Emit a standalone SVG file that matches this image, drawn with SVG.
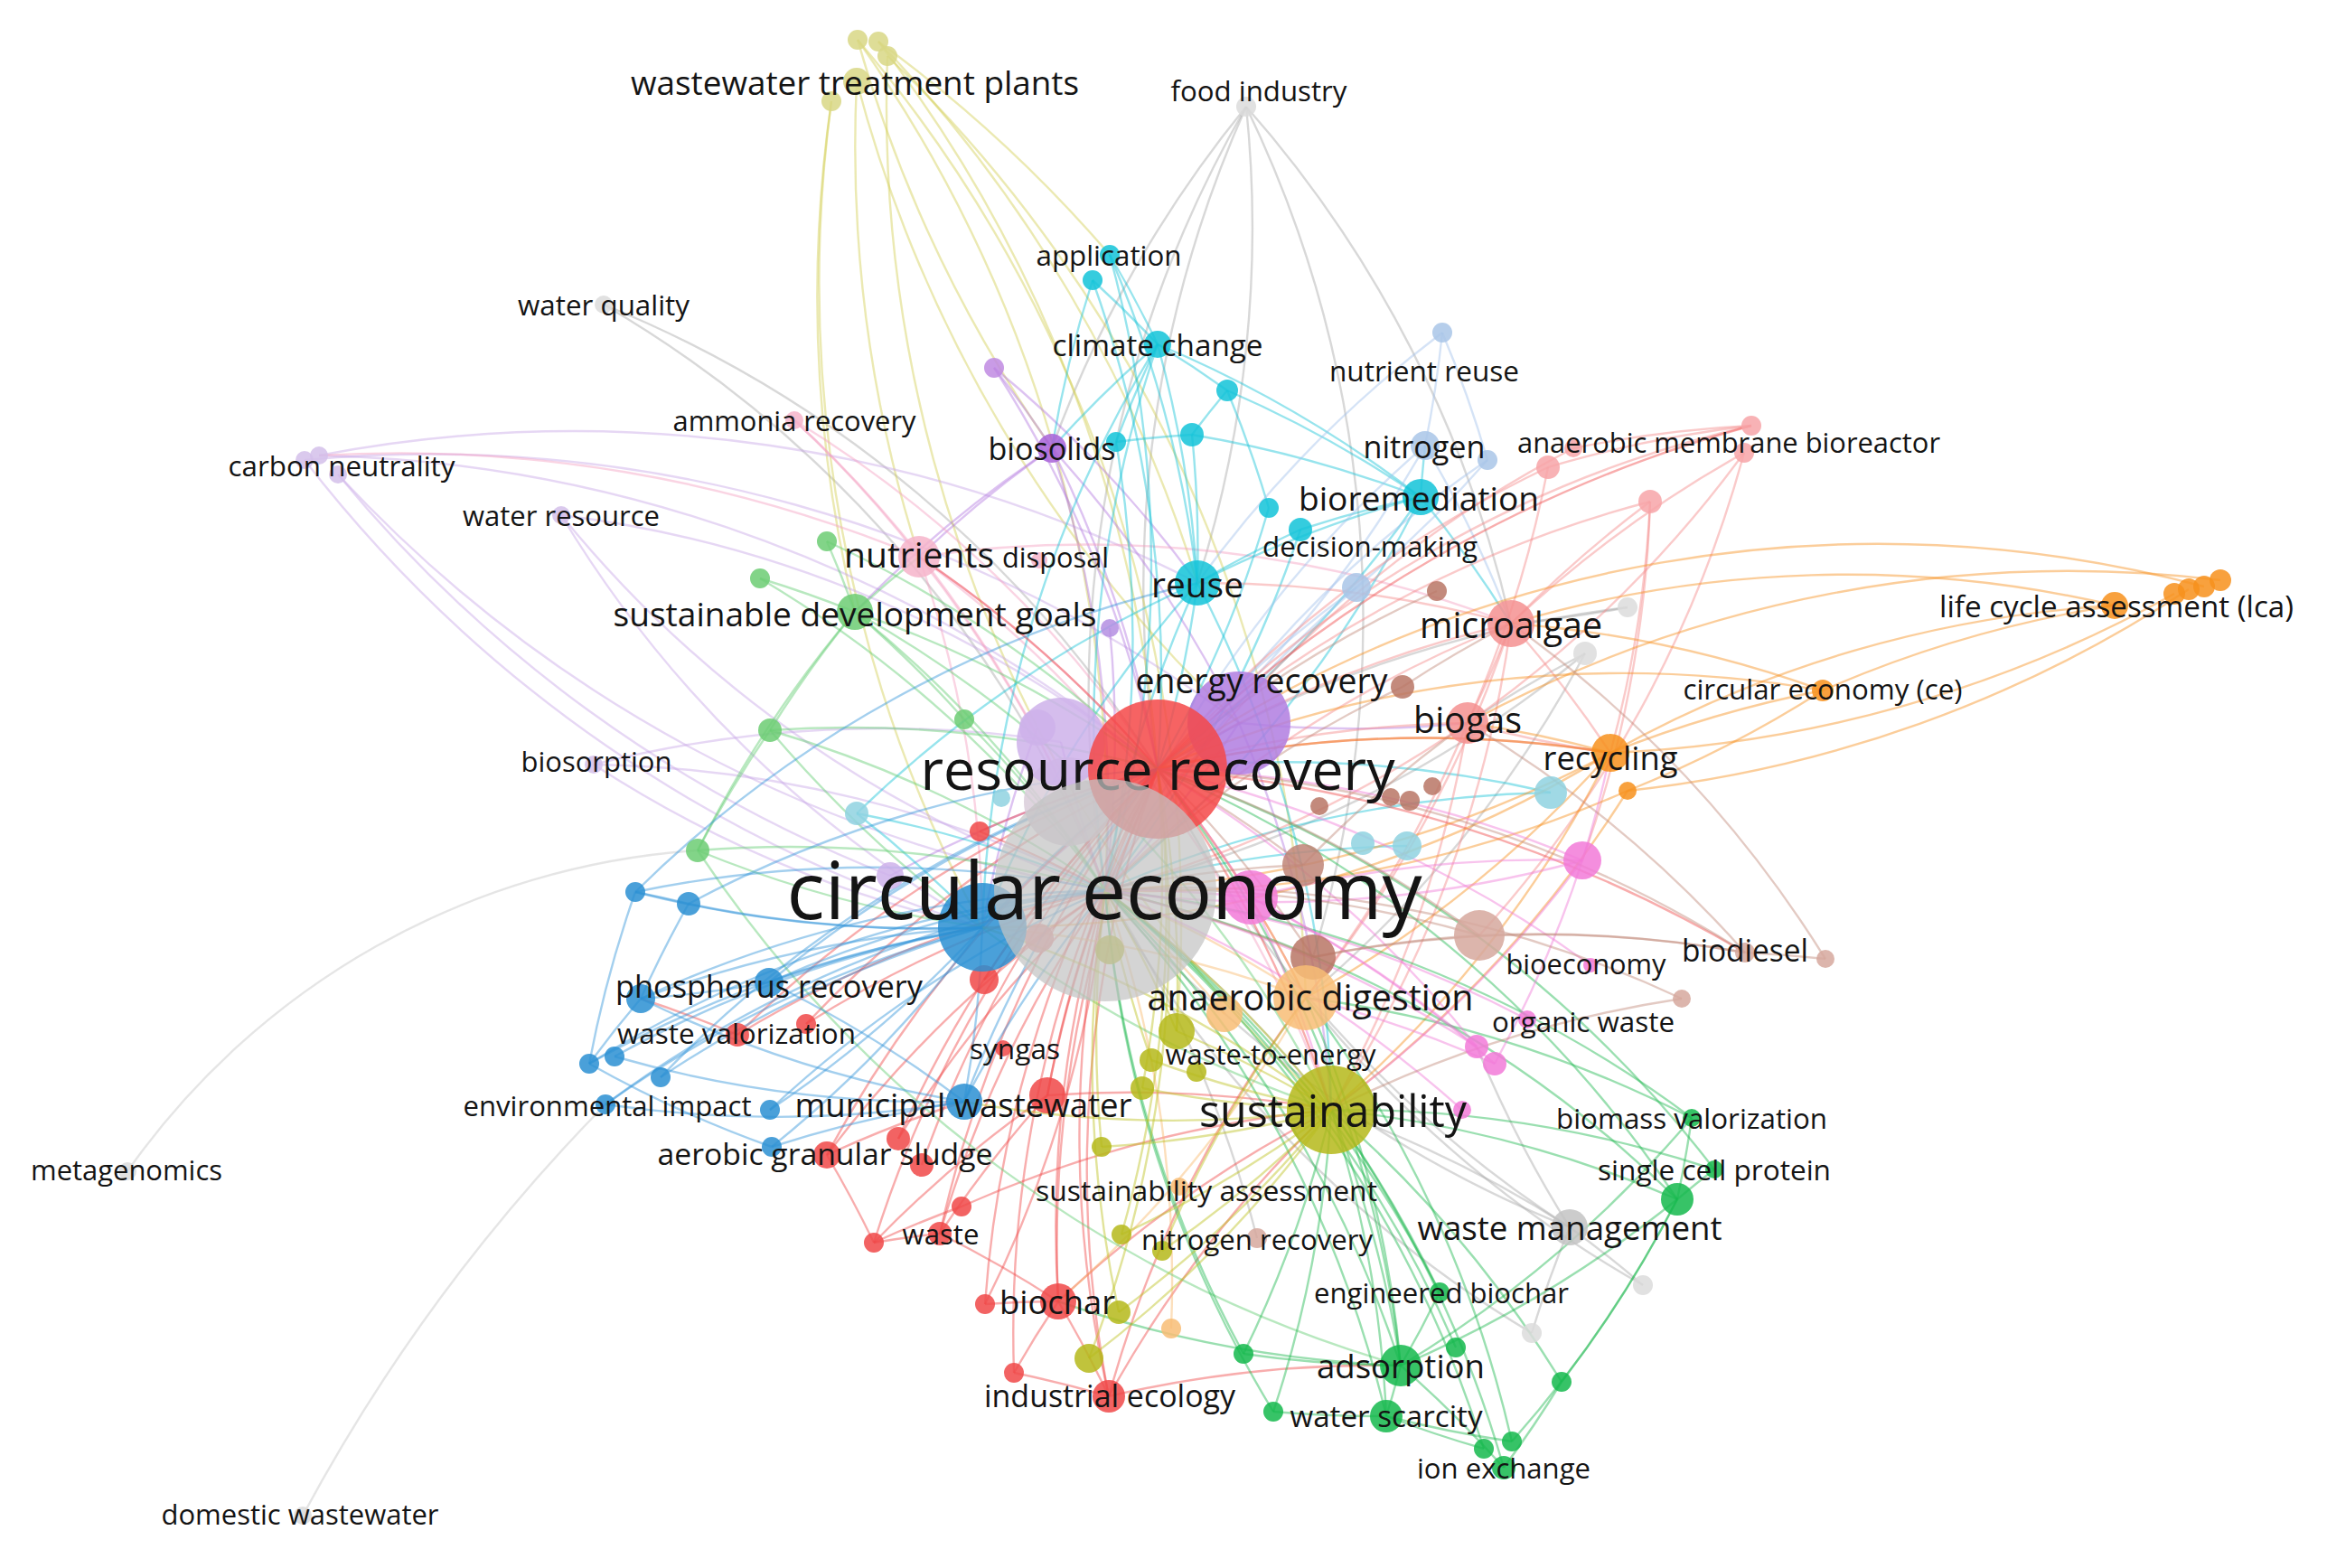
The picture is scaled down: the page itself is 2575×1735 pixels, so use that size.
<svg xmlns="http://www.w3.org/2000/svg" width="2575" height="1735" viewBox="0 0 2575 1735">
<style>
#edges path{fill:none;stroke-width:2.4;stroke-opacity:.45}
.gr{stroke:#a8a8a8}.ye{stroke:#d2cf55}.lv{stroke:#c7a6e6}.pu{stroke:#b37ae0}.lp{stroke:#f3a0c0}.cy{stroke:#18c3d8}.lb{stroke:#a2c0ea}.sa{stroke:#f58a8a}.rd{stroke:#f04a4a}.or{stroke:#f7901e}.lo{stroke:#f8b86a}.lg{stroke:#62cc70}.dg{stroke:#1eb850}.bl{stroke:#3494da}.ol{stroke:#bdc020}.mg{stroke:#f07ad8}.br{stroke:#c28a7a}
circle{fill-opacity:.85}
.grey{fill:#c3c3c3}.lgrey{fill:#dcdcdc}.red{fill:#f04848}.sal{fill:#f59090}.pur{fill:#a862d8}.lpur{fill:#ceb2ea}.lav{fill:#d4c0ea}.cyan{fill:#12c3d8}.lcy{fill:#8fd2e0}.lblue{fill:#a9c5e8}.blue{fill:#2a8fd2}.green{fill:#14b84c}.lgreen{fill:#6ccd73}.olive{fill:#b5b81a}.orange{fill:#f7901c}.lor{fill:#f8bd76}.pink{fill:#f27ad8}.lpink{fill:#f6b4ca}.brown{fill:#b97665}.lbr{fill:#d6a89e}.yel{fill:#d8d785}.pgrey{fill:#d9cdd9}
text{font-family:"Open Sans","Noto Sans",sans-serif;fill:#141414;text-anchor:middle;dominant-baseline:central}
</style>
<rect width="2575" height="1735" fill="#ffffff"/>
<g id="edges">
<path class="gr" style="stroke-opacity:.3" d="M141 1296 A840 840 0 0 1 772 941"/>
<path class="gr" style="stroke-opacity:.3" d="M335 1677 A2000 2000 0 0 1 670 1222"/>
<path class="gr" d="M668 337 A1300 1300 0 0 1 1223 985"/>
<path class="gr" d="M668 337 A1300 1300 0 0 1 1281 851"/>
<path class="gr" d="M1379 118 A1300 1300 0 0 0 1223 985"/>
<path class="gr" d="M1379 118 A1300 1300 0 0 0 1281 851"/>
<path class="gr" d="M1379 118 A1300 1300 0 0 0 1164 496"/>
<path class="gr" d="M1379 118 A1300 1300 0 0 1 1325 645"/>
<path class="gr" d="M1379 118 A1300 1300 0 0 1 1672 690"/>
<path class="gr" d="M1379 118 A1300 1300 0 0 1 1453 1059"/>
<path class="gr" d="M1737 1358 A1300 1300 0 0 1 1223 985"/>
<path class="gr" d="M1737 1358 A1300 1300 0 0 0 1473 1228"/>
<path class="gr" d="M1737 1358 A1300 1300 0 0 1 1818 1422"/>
<path class="gr" d="M1737 1358 A1300 1300 0 0 0 1695 1475"/>
<path class="gr" d="M1737 1358 A1300 1300 0 0 1 1634 1158"/>
<path class="gr" d="M1737 1358 A1300 1300 0 0 1 1281 851"/>
<path class="gr" d="M1818 1422 A1300 1300 0 0 1 1445 1104"/>
<path class="gr" d="M1695 1475 A1300 1300 0 0 1 1223 985"/>
<path class="gr" d="M1801 672 A1300 1300 0 0 0 1281 851"/>
<path class="gr" d="M1801 672 A1300 1300 0 0 1 1672 690"/>
<path class="gr" d="M1754 723 A1300 1300 0 0 1 1223 985"/>
<path class="gr" d="M1754 723 A1300 1300 0 0 0 1624 800"/>
<path class="gr" d="M1754 723 A1300 1300 0 0 1 1445 1104"/>
<path class="gr" d="M1391 1370 A1300 1300 0 0 0 1223 985"/>
<path class="gr" d="M1223 985 A1300 1300 0 0 1 1473 1228"/>
<path class="ye" d="M949 44 A1500 1500 0 0 1 1223 985"/>
<path class="ye" d="M972 46 A1500 1500 0 0 1 1281 851"/>
<path class="ye" d="M982 62 A1500 1500 0 0 0 1473 1228"/>
<path class="ye" d="M948 90 A1500 1500 0 0 0 1017 616"/>
<path class="ye" d="M920 112 A1500 1500 0 0 0 946 677"/>
<path class="ye" d="M949 44 A1500 1500 0 0 0 1164 496"/>
<path class="ye" d="M972 46 A1500 1500 0 0 1 1325 645"/>
<path class="ye" d="M982 62 A1500 1500 0 0 1 1445 1104"/>
<path class="ye" d="M920 112 A1500 1500 0 0 0 1087 1026"/>
<path class="ye" d="M948 90 A1500 1500 0 0 0 1371 800"/>
<path class="ye" d="M949 44 A1500 1500 0 0 1 1302 1141"/>
<path class="ye" d="M972 46 A1500 1500 0 0 1 1228 282"/>
<path class="lv" d="M353 504 A1500 1500 0 0 1 1281 851"/>
<path class="lv" d="M337 509 A1500 1500 0 0 1 1371 800"/>
<path class="lv" d="M374 525 A1500 1500 0 0 0 1223 985"/>
<path class="lv" d="M353 504 A1500 1500 0 0 1 1325 645"/>
<path class="lv" d="M337 509 A1500 1500 0 0 0 1087 1026"/>
<path class="lv" d="M374 525 A1500 1500 0 0 0 985 969"/>
<path class="lv" d="M621 570 A1300 1300 0 0 0 1223 985"/>
<path class="lv" d="M621 570 A1300 1300 0 0 1 1281 851"/>
<path class="lv" d="M621 570 A1300 1300 0 0 0 1087 1026"/>
<path class="lv" d="M657 846 A1300 1300 0 0 1 1223 985"/>
<path class="lv" d="M657 846 A1300 1300 0 0 1 1174 821"/>
<path class="lv" d="M657 846 A1300 1300 0 0 0 1087 1026"/>
<path class="pu" d="M1164 496 A1300 1300 0 0 0 1100 407"/>
<path class="pu" d="M1164 496 A1300 1300 0 0 1 1223 985"/>
<path class="pu" d="M1164 496 A1300 1300 0 0 1 1281 851"/>
<path class="pu" d="M1164 496 A1300 1300 0 0 1 1371 800"/>
<path class="pu" d="M1164 496 A1300 1300 0 0 0 1017 616"/>
<path class="pu" d="M1164 496 A1300 1300 0 0 0 946 677"/>
<path class="pu" d="M1100 407 A1300 1300 0 0 1 1281 851"/>
<path class="pu" d="M1100 407 A1300 1300 0 0 1 1325 645"/>
<path class="pu" d="M1371 800 A1300 1300 0 0 1 1223 985"/>
<path class="pu" d="M1371 800 A1300 1300 0 0 1 1473 1228"/>
<path class="pu" d="M1371 800 A1300 1300 0 0 0 1624 800"/>
<path class="pu" d="M1174 821 A1300 1300 0 0 0 1223 985"/>
<path class="pu" d="M1228 695 A1300 1300 0 0 1 1223 985"/>
<path class="pu" d="M1148 805 A1300 1300 0 0 0 1087 1026"/>
<path class="pu" d="M985 969 A1300 1300 0 0 1 1281 851"/>
<path class="pu" d="M1371 800 A1300 1300 0 0 0 1087 1026"/>
<path class="lp" d="M1017 616 A1300 1300 0 0 1 1223 985"/>
<path class="lp" d="M1017 616 A1300 1300 0 0 1 1281 851"/>
<path class="lp" d="M1017 616 A1300 1300 0 0 0 879 465"/>
<path class="lp" d="M1017 616 A1500 1500 0 0 0 353 504"/>
<path class="lp" d="M879 465 A1300 1300 0 0 1 1223 985"/>
<path class="lp" d="M879 465 A1300 1300 0 0 1 1281 851"/>
<path class="lp" d="M1017 616 A1300 1300 0 0 1 1087 1026"/>
<path class="lp" d="M1017 616 A1300 1300 0 0 1 1473 1228"/>
<path class="lp" d="M1017 616 A1300 1300 0 0 1 1672 690"/>
<path class="cy" d="M1281 381 A1300 1300 0 0 0 1228 282"/>
<path class="cy" d="M1281 381 A1300 1300 0 0 0 1209 310"/>
<path class="cy" d="M1228 282 A1300 1300 0 0 1 1325 645"/>
<path class="cy" d="M1209 310 A1300 1300 0 0 0 1164 496"/>
<path class="cy" d="M1209 310 A1300 1300 0 0 1 1281 851"/>
<path class="cy" d="M1228 282 A1300 1300 0 0 1 1223 985"/>
<path class="cy" d="M1281 381 A1300 1300 0 0 1 1358 432"/>
<path class="cy" d="M1281 381 A1300 1300 0 0 1 1325 645"/>
<path class="cy" d="M1281 381 A1300 1300 0 0 0 1235 489"/>
<path class="cy" d="M1281 381 A1300 1300 0 0 1 1572 550"/>
<path class="cy" d="M1281 381 A1300 1300 0 0 0 1223 985"/>
<path class="cy" d="M1281 381 A1300 1300 0 0 0 1087 1026"/>
<path class="cy" d="M1281 381 A1300 1300 0 0 0 1164 496"/>
<path class="cy" d="M1358 432 A1300 1300 0 0 1 1572 550"/>
<path class="cy" d="M1358 432 A1300 1300 0 0 0 1319 481"/>
<path class="cy" d="M1358 432 A1300 1300 0 0 1 1404 562"/>
<path class="cy" d="M1319 481 A1300 1300 0 0 0 1235 489"/>
<path class="cy" d="M1319 481 A1300 1300 0 0 1 1325 645"/>
<path class="cy" d="M1319 481 A1300 1300 0 0 1 1572 550"/>
<path class="cy" d="M1325 645 A1300 1300 0 0 0 1223 985"/>
<path class="cy" d="M1325 645 A1300 1300 0 0 1 1281 851"/>
<path class="cy" d="M1325 645 A1300 1300 0 0 1 1572 550"/>
<path class="cy" d="M1325 645 A1300 1300 0 0 1 1439 586"/>
<path class="cy" d="M1325 645 A1300 1300 0 0 0 1087 1026"/>
<path class="cy" d="M1325 645 A1300 1300 0 0 0 948 900"/>
<path class="cy" d="M1325 645 A1300 1300 0 0 1 1473 1228"/>
<path class="cy" d="M1572 550 A1300 1300 0 0 0 1439 586"/>
<path class="cy" d="M1572 550 A1300 1300 0 0 1 1281 851"/>
<path class="cy" d="M1572 550 A1300 1300 0 0 1 1223 985"/>
<path class="cy" d="M1572 550 A1300 1300 0 0 1 1577 493"/>
<path class="cy" d="M1572 550 A1300 1300 0 0 1 1672 690"/>
<path class="cy" d="M1404 562 A1300 1300 0 0 1 1281 851"/>
<path class="cy" d="M1439 586 A1300 1300 0 0 1 1223 985"/>
<path class="cy" d="M1235 489 A1300 1300 0 0 1 1223 985"/>
<path class="cy" d="M948 900 A1300 1300 0 0 1 1223 985"/>
<path class="cy" d="M948 900 A1300 1300 0 0 1 1087 1026"/>
<path class="cy" d="M1716 877 A1300 1300 0 0 0 1223 985"/>
<path class="cy" d="M1716 877 A1300 1300 0 0 0 1281 851"/>
<path class="cy" d="M1557 936 A1300 1300 0 0 0 1223 985"/>
<path class="lb" d="M1577 493 A1300 1300 0 0 0 1596 368"/>
<path class="lb" d="M1596 368 A1300 1300 0 0 0 1325 645"/>
<path class="lb" d="M1596 368 A1300 1300 0 0 1 1646 509"/>
<path class="lb" d="M1577 493 A1300 1300 0 0 1 1281 851"/>
<path class="lb" d="M1577 493 A1300 1300 0 0 0 1223 985"/>
<path class="lb" d="M1646 509 A1300 1300 0 0 1 1501 650"/>
<path class="lb" d="M1501 650 A1300 1300 0 0 0 1281 851"/>
<path class="lb" d="M1501 650 A1300 1300 0 0 0 1223 985"/>
<path class="lb" d="M1577 493 A1300 1300 0 0 1 1672 690"/>
<path class="lb" d="M1646 509 A1300 1300 0 0 0 1223 985"/>
<path class="sa" d="M1713 517 A1300 1300 0 0 0 1281 851"/>
<path class="sa" d="M1741 496 A1300 1300 0 0 0 1223 985"/>
<path class="sa" d="M1930 501 A1300 1300 0 0 0 1672 690"/>
<path class="sa" d="M1938 471 A1300 1300 0 0 0 1713 517"/>
<path class="sa" d="M1938 471 A1300 1300 0 0 0 1281 851"/>
<path class="sa" d="M1930 501 A1300 1300 0 0 1 1624 800"/>
<path class="sa" d="M1826 555 A1300 1300 0 0 0 1672 690"/>
<path class="sa" d="M1826 555 A1300 1300 0 0 1 1782 833"/>
<path class="sa" d="M1826 555 A1300 1300 0 0 0 1281 851"/>
<path class="sa" d="M1741 496 A1300 1300 0 0 1 1938 471"/>
<path class="sa" d="M1713 517 A1300 1300 0 0 1 1624 800"/>
<path class="sa" d="M1930 501 A1300 1300 0 0 1 1637 1035"/>
<path class="sa" d="M1826 555 A1300 1300 0 0 1 1751 952"/>
<path class="sa" d="M1672 690 A1300 1300 0 0 0 1281 851"/>
<path class="sa" d="M1672 690 A1300 1300 0 0 0 1223 985"/>
<path class="sa" d="M1672 690 A1300 1300 0 0 1 1624 800"/>
<path class="sa" d="M1672 690 A1300 1300 0 0 1 1473 1228"/>
<path class="sa" d="M1672 690 A1300 1300 0 0 1 1445 1104"/>
<path class="sa" d="M1672 690 A1300 1300 0 0 0 1325 645"/>
<path class="sa" d="M1672 690 A1300 1300 0 0 1 1782 833"/>
<path class="sa" d="M1624 800 A1300 1300 0 0 0 1281 851"/>
<path class="sa" d="M1624 800 A1300 1300 0 0 1 1223 985"/>
<path class="sa" d="M1624 800 A1300 1300 0 0 1 1445 1104"/>
<path class="sa" d="M1624 800 A1300 1300 0 0 1 1473 1228"/>
<path class="sa" d="M1624 800 A1300 1300 0 0 0 1782 833"/>
<path class="rd" d="M1281 851 A1300 1300 0 0 0 1171 1440"/>
<path class="rd" d="M1281 851 A1300 1300 0 0 0 1227 1545"/>
<path class="rd" d="M1281 851 A1300 1300 0 0 0 1040 1365"/>
<path class="rd" d="M1281 851 A1300 1300 0 0 0 915 1278"/>
<path class="rd" d="M1281 851 A1300 1300 0 0 0 816 1145"/>
<path class="rd" d="M1281 851 A1300 1300 0 0 0 1159 1212"/>
<path class="rd" d="M1281 851 A1300 1300 0 0 0 994 1260"/>
<path class="rd" d="M1281 851 A1300 1300 0 0 0 1089 1084"/>
<path class="rd" d="M1281 851 A1300 1300 0 0 0 1084 920"/>
<path class="rd" d="M1281 851 A1300 1300 0 0 1 1473 1228"/>
<path class="rd" d="M1281 851 A1300 1300 0 0 1 1445 1104"/>
<path class="rd" d="M1281 851 A1300 1300 0 0 0 892 1133"/>
<path class="rd" d="M1281 851 A1300 1300 0 0 0 967 1375"/>
<path class="rd" d="M1281 851 A1300 1300 0 0 0 1090 1443"/>
<path class="rd" d="M1281 851 A1300 1300 0 0 0 1122 1519"/>
<path class="rd" d="M1281 851 A1300 1300 0 0 1 1782 833"/>
<path class="rd" d="M1281 851 A1300 1300 0 0 0 1017 616"/>
<path class="rd" d="M1281 851 A1300 1300 0 0 1 1223 985"/>
<path class="rd" d="M1281 851 A1500 1500 0 0 1 1931 1054"/>
<path class="rd" d="M1281 851 A1500 1500 0 0 1 1938 471"/>
<path class="rd" d="M1171 1440 A1300 1300 0 0 1 1223 985"/>
<path class="rd" d="M1171 1440 A1300 1300 0 0 0 1090 1443"/>
<path class="rd" d="M1171 1440 A1300 1300 0 0 1 1227 1545"/>
<path class="rd" d="M1171 1440 A1300 1300 0 0 1 1473 1228"/>
<path class="rd" d="M1171 1440 A1300 1300 0 0 0 1040 1365"/>
<path class="rd" d="M1227 1545 A1300 1300 0 0 1 1223 985"/>
<path class="rd" d="M1227 1545 A1300 1300 0 0 0 1122 1519"/>
<path class="rd" d="M1227 1545 A1300 1300 0 0 1 1473 1228"/>
<path class="rd" d="M1227 1545 A1300 1300 0 0 1 1550 1511"/>
<path class="rd" d="M1227 1545 A1300 1300 0 0 1 1445 1104"/>
<path class="rd" d="M1040 1365 A1300 1300 0 0 1 1223 985"/>
<path class="rd" d="M1040 1365 A1300 1300 0 0 0 967 1375"/>
<path class="rd" d="M1040 1365 A1300 1300 0 0 1 1159 1212"/>
<path class="rd" d="M967 1375 A1300 1300 0 0 1 1159 1212"/>
<path class="rd" d="M967 1375 A1300 1300 0 0 0 915 1278"/>
<path class="rd" d="M915 1278 A1300 1300 0 0 1 1223 985"/>
<path class="rd" d="M915 1278 A1300 1300 0 0 1 1067 1219"/>
<path class="rd" d="M994 1260 A1300 1300 0 0 1 1223 985"/>
<path class="rd" d="M1020 1289 A1300 1300 0 0 1 1281 851"/>
<path class="rd" d="M1064 1335 A1300 1300 0 0 1 1473 1228"/>
<path class="rd" d="M1159 1212 A1300 1300 0 0 1 1223 985"/>
<path class="rd" d="M1159 1212 A1300 1300 0 0 1 1473 1228"/>
<path class="rd" d="M816 1145 A1300 1300 0 0 1 1223 985"/>
<path class="rd" d="M816 1145 A1300 1300 0 0 0 709 1105"/>
<path class="rd" d="M892 1133 A1300 1300 0 0 1 1223 985"/>
<path class="rd" d="M1089 1084 A1300 1300 0 0 1 1223 985"/>
<path class="rd" d="M1084 920 A1300 1300 0 0 1 1223 985"/>
<path class="rd" d="M1090 1443 A1300 1300 0 0 0 1223 985"/>
<path class="rd" d="M1122 1519 A1300 1300 0 0 1 1171 1440"/>
<path class="rd" d="M1064 1335 A1300 1300 0 0 0 967 1375"/>
<path class="or" d="M2340 670 A1300 1300 0 0 0 1782 833"/>
<path class="or" d="M2340 670 A1300 1300 0 0 0 2017 764"/>
<path class="or" d="M2340 670 A1300 1300 0 0 0 1672 690"/>
<path class="or" d="M2457 642 A1400 1400 0 0 0 1624 800"/>
<path class="or" d="M2439 649 A1400 1400 0 0 0 1281 851"/>
<path class="or" d="M2422 652 A1400 1400 0 0 1 1801 875"/>
<path class="or" d="M2406 657 A1400 1400 0 0 1 1782 833"/>
<path class="or" d="M2017 764 A1300 1300 0 0 0 1782 833"/>
<path class="or" d="M2017 764 A1300 1300 0 0 0 1672 690"/>
<path class="or" d="M2017 764 A1300 1300 0 0 1 1801 875"/>
<path class="or" d="M2017 764 A1300 1300 0 0 0 1281 851"/>
<path class="or" d="M1782 833 A1300 1300 0 0 1 1223 985"/>
<path class="or" d="M1782 833 A1300 1300 0 0 1 1445 1104"/>
<path class="or" d="M1782 833 A1300 1300 0 0 0 1281 851"/>
<path class="or" d="M1782 833 A1300 1300 0 0 0 1624 800"/>
<path class="or" d="M1782 833 A1300 1300 0 0 1 1473 1228"/>
<path class="or" d="M1782 833 A1300 1300 0 0 1 1087 1026"/>
<path class="or" d="M1801 875 A1300 1300 0 0 1 1223 985"/>
<path class="or" d="M1801 875 A1300 1300 0 0 1 1473 1228"/>
<path class="lo" d="M1296 1470 A1300 1300 0 0 0 1223 985"/>
<path class="lo" d="M1445 1104 A1300 1300 0 0 0 1223 985"/>
<path class="lo" d="M1445 1104 A1300 1300 0 0 0 1281 851"/>
<path class="lo" d="M1445 1104 A1300 1300 0 0 1 1171 1440"/>
<path class="lo" d="M1445 1104 A1300 1300 0 0 0 1087 1026"/>
<path class="lo" d="M1355 1122 A1300 1300 0 0 0 1223 985"/>
<path class="lg" d="M946 677 A1300 1300 0 0 1 1223 985"/>
<path class="lg" d="M946 677 A1300 1300 0 0 1 1281 851"/>
<path class="lg" d="M946 677 A1300 1300 0 0 0 841 640"/>
<path class="lg" d="M946 677 A1300 1300 0 0 0 915 599"/>
<path class="lg" d="M946 677 A1300 1300 0 0 1 1017 616"/>
<path class="lg" d="M946 677 A1300 1300 0 0 1 1473 1228"/>
<path class="lg" d="M946 677 A1300 1300 0 0 0 852 808"/>
<path class="lg" d="M946 677 A1300 1300 0 0 0 772 941"/>
<path class="lg" d="M841 640 A1300 1300 0 0 1 1223 985"/>
<path class="lg" d="M915 599 A1300 1300 0 0 1 1281 851"/>
<path class="lg" d="M852 808 A1300 1300 0 0 1 1223 985"/>
<path class="lg" d="M852 808 A1300 1300 0 0 1 1281 851"/>
<path class="lg" d="M772 941 A1300 1300 0 0 1 1223 985"/>
<path class="lg" d="M772 941 A1300 1300 0 0 0 1087 1026"/>
<path class="lg" d="M1067 796 A1300 1300 0 0 1 1223 985"/>
<path class="lg" d="M1067 796 A1300 1300 0 0 0 946 677"/>
<path class="lg" d="M852 808 A1300 1300 0 0 0 772 941"/>
<path class="lg" d="M852 808 A1400 1400 0 0 0 1473 1228"/>
<path class="lg" d="M772 941 A1400 1400 0 0 0 1550 1511"/>
<path class="dg" d="M1550 1511 A1300 1300 0 0 0 1473 1228"/>
<path class="dg" d="M1550 1511 A1300 1300 0 0 0 1223 985"/>
<path class="dg" d="M1550 1511 A1300 1300 0 0 0 1281 851"/>
<path class="dg" d="M1550 1511 A1300 1300 0 0 1 1534 1567"/>
<path class="dg" d="M1550 1511 A1300 1300 0 0 1 1664 1624"/>
<path class="dg" d="M1550 1511 A1300 1300 0 0 0 1872 1237"/>
<path class="dg" d="M1550 1511 A1300 1300 0 0 0 1856 1327"/>
<path class="dg" d="M1550 1511 A1300 1300 0 0 0 1445 1104"/>
<path class="dg" d="M1550 1511 A1300 1300 0 0 1 1171 1440"/>
<path class="dg" d="M1550 1511 A1300 1300 0 0 0 1593 1430"/>
<path class="dg" d="M1550 1511 A1300 1300 0 0 1 1376 1498"/>
<path class="dg" d="M1534 1567 A1300 1300 0 0 0 1473 1228"/>
<path class="dg" d="M1534 1567 A1300 1300 0 0 0 1223 985"/>
<path class="dg" d="M1534 1567 A1300 1300 0 0 1 1409 1562"/>
<path class="dg" d="M1534 1567 A1300 1300 0 0 0 1642 1603"/>
<path class="dg" d="M1534 1567 A1300 1300 0 0 0 1673 1595"/>
<path class="dg" d="M1664 1624 A1300 1300 0 0 0 1473 1228"/>
<path class="dg" d="M1664 1624 A1300 1300 0 0 0 1728 1529"/>
<path class="dg" d="M1642 1603 A1300 1300 0 0 0 1223 985"/>
<path class="dg" d="M1673 1595 A1300 1300 0 0 0 1856 1327"/>
<path class="dg" d="M1673 1595 A1300 1300 0 0 0 1445 1104"/>
<path class="dg" d="M1728 1529 A1300 1300 0 0 0 1856 1327"/>
<path class="dg" d="M1728 1529 A1300 1300 0 0 0 1473 1228"/>
<path class="dg" d="M1856 1327 A1300 1300 0 0 0 1473 1228"/>
<path class="dg" d="M1856 1327 A1300 1300 0 0 0 1223 985"/>
<path class="dg" d="M1856 1327 A1300 1300 0 0 0 1872 1237"/>
<path class="dg" d="M1856 1327 A1300 1300 0 0 1 1897 1294"/>
<path class="dg" d="M1856 1327 A1300 1300 0 0 0 1281 851"/>
<path class="dg" d="M1872 1237 A1300 1300 0 0 0 1223 985"/>
<path class="dg" d="M1872 1237 A1300 1300 0 0 0 1445 1104"/>
<path class="dg" d="M1897 1294 A1300 1300 0 0 0 1473 1228"/>
<path class="dg" d="M1897 1294 A1300 1300 0 0 0 1281 851"/>
<path class="dg" d="M1593 1430 A1300 1300 0 0 0 1223 985"/>
<path class="dg" d="M1593 1430 A1300 1300 0 0 0 1473 1228"/>
<path class="dg" d="M1611 1491 A1300 1300 0 0 0 1223 985"/>
<path class="dg" d="M1376 1498 A1300 1300 0 0 0 1473 1228"/>
<path class="dg" d="M1376 1498 A1300 1300 0 0 1 1223 985"/>
<path class="dg" d="M1409 1562 A1300 1300 0 0 1 1223 985"/>
<path class="dg" d="M1409 1562 A1300 1300 0 0 0 1473 1228"/>
<path class="bl" d="M1087 1026 A1300 1300 0 0 0 851 1087"/>
<path class="bl" d="M1087 1026 A1300 1300 0 0 0 709 1105"/>
<path class="bl" d="M1087 1026 A1300 1300 0 0 0 652 1177"/>
<path class="bl" d="M1087 1026 A1300 1300 0 0 0 680 1169"/>
<path class="bl" d="M1087 1026 A1300 1300 0 0 0 731 1192"/>
<path class="bl" d="M1087 1026 A1300 1300 0 0 0 670 1222"/>
<path class="bl" d="M1087 1026 A1300 1300 0 0 1 703 987"/>
<path class="bl" d="M1087 1026 A1300 1300 0 0 1 762 1000"/>
<path class="bl" d="M1087 1026 A1300 1300 0 0 1 1067 1219"/>
<path class="bl" d="M1087 1026 A1300 1300 0 0 1 852 1228"/>
<path class="bl" d="M1087 1026 A1300 1300 0 0 1 854 1269"/>
<path class="bl" d="M1087 1026 A1300 1300 0 0 1 1281 851"/>
<path class="bl" d="M851 1087 A1300 1300 0 0 1 1223 985"/>
<path class="bl" d="M851 1087 A1300 1300 0 0 1 1281 851"/>
<path class="bl" d="M851 1087 A1300 1300 0 0 1 709 1105"/>
<path class="bl" d="M851 1087 A1300 1300 0 0 1 1067 1219"/>
<path class="bl" d="M709 1105 A1300 1300 0 0 1 1223 985"/>
<path class="bl" d="M709 1105 A1300 1300 0 0 1 762 1000"/>
<path class="bl" d="M709 1105 A1300 1300 0 0 0 652 1177"/>
<path class="bl" d="M709 1105 A1300 1300 0 0 0 1067 1219"/>
<path class="bl" d="M652 1177 A1300 1300 0 0 1 703 987"/>
<path class="bl" d="M652 1177 A1300 1300 0 0 0 854 1269"/>
<path class="bl" d="M652 1177 A1300 1300 0 0 1 1223 985"/>
<path class="bl" d="M680 1169 A1300 1300 0 0 0 1067 1219"/>
<path class="bl" d="M731 1192 A1300 1300 0 0 1 1281 851"/>
<path class="bl" d="M670 1222 A1300 1300 0 0 0 1067 1219"/>
<path class="bl" d="M670 1222 A1300 1300 0 0 1 1223 985"/>
<path class="bl" d="M703 987 A1300 1300 0 0 1 1223 985"/>
<path class="bl" d="M762 1000 A1300 1300 0 0 1 1281 851"/>
<path class="bl" d="M762 1000 A1300 1300 0 0 0 703 987"/>
<path class="bl" d="M703 987 A1300 1300 0 0 1 1325 645"/>
<path class="bl" d="M1067 1219 A1300 1300 0 0 1 1223 985"/>
<path class="bl" d="M1067 1219 A1300 1300 0 0 1 1281 851"/>
<path class="bl" d="M852 1228 A1300 1300 0 0 1 1223 985"/>
<path class="bl" d="M854 1269 A1300 1300 0 0 1 1067 1219"/>
<path class="ol" d="M1473 1228 A1300 1300 0 0 0 1223 985"/>
<path class="ol" d="M1473 1228 A1300 1300 0 0 0 1302 1141"/>
<path class="ol" d="M1473 1228 A1300 1300 0 0 1 1274 1173"/>
<path class="ol" d="M1473 1228 A1300 1300 0 0 1 1264 1204"/>
<path class="ol" d="M1473 1228 A1300 1300 0 0 1 1219 1269"/>
<path class="ol" d="M1473 1228 A1300 1300 0 0 1 1241 1366"/>
<path class="ol" d="M1473 1228 A1300 1300 0 0 1 1286 1384"/>
<path class="ol" d="M1473 1228 A1300 1300 0 0 1 1238 1452"/>
<path class="ol" d="M1473 1228 A1300 1300 0 0 1 1205 1503"/>
<path class="ol" d="M1473 1228 A1300 1300 0 0 0 1087 1026"/>
<path class="ol" d="M1473 1228 A1300 1300 0 0 1 1067 1219"/>
<path class="ol" d="M1302 1141 A1300 1300 0 0 0 1223 985"/>
<path class="ol" d="M1302 1141 A1300 1300 0 0 0 1281 851"/>
<path class="ol" d="M1274 1173 A1300 1300 0 0 1 1223 985"/>
<path class="ol" d="M1264 1204 A1300 1300 0 0 0 1281 851"/>
<path class="ol" d="M1219 1269 A1300 1300 0 0 1 1223 985"/>
<path class="ol" d="M1238 1452 A1300 1300 0 0 1 1223 985"/>
<path class="ol" d="M1205 1503 A1300 1300 0 0 0 1281 851"/>
<path class="ol" d="M1241 1366 A1300 1300 0 0 0 1281 851"/>
<path class="ol" d="M1286 1384 A1300 1300 0 0 1 1445 1104"/>
<path class="mg" d="M1384 993 A1300 1300 0 0 0 1223 985"/>
<path class="mg" d="M1384 993 A1300 1300 0 0 0 1281 851"/>
<path class="mg" d="M1384 993 A1300 1300 0 0 1 1751 952"/>
<path class="mg" d="M1384 993 A1300 1300 0 0 1 1634 1158"/>
<path class="mg" d="M1384 993 A1300 1300 0 0 1 1654 1177"/>
<path class="mg" d="M1384 993 A1300 1300 0 0 1 1473 1228"/>
<path class="mg" d="M1751 952 A1300 1300 0 0 0 1281 851"/>
<path class="mg" d="M1751 952 A1300 1300 0 0 1 1473 1228"/>
<path class="mg" d="M1751 952 A1300 1300 0 0 1 1223 985"/>
<path class="mg" d="M1751 952 A1300 1300 0 0 0 1782 833"/>
<path class="mg" d="M1751 952 A1300 1300 0 0 1 1654 1177"/>
<path class="mg" d="M1634 1158 A1300 1300 0 0 0 1223 985"/>
<path class="mg" d="M1634 1158 A1300 1300 0 0 0 1281 851"/>
<path class="mg" d="M1654 1177 A1300 1300 0 0 0 1445 1104"/>
<path class="mg" d="M1618 1228 A1300 1300 0 0 0 1223 985"/>
<path class="mg" d="M1690 1128 A1300 1300 0 0 0 1223 985"/>
<path class="mg" d="M1760 1068 A1300 1300 0 0 0 1281 851"/>
<path class="br" d="M1453 1059 A1300 1300 0 0 0 1223 985"/>
<path class="br" d="M1453 1059 A1300 1300 0 0 0 1281 851"/>
<path class="br" d="M1453 1059 A1300 1300 0 0 1 1637 1035"/>
<path class="br" d="M1453 1059 A1300 1300 0 0 1 1931 1054"/>
<path class="br" d="M1442 957 A1300 1300 0 0 0 1223 985"/>
<path class="br" d="M1442 957 A1300 1300 0 0 0 1281 851"/>
<path class="br" d="M1442 957 A1300 1300 0 0 1 1624 800"/>
<path class="br" d="M1590 654 A1300 1300 0 0 0 1281 851"/>
<path class="br" d="M1552 760 A1300 1300 0 0 0 1223 985"/>
<path class="br" d="M1552 760 A1300 1300 0 0 1 1672 690"/>
<path class="br" d="M1637 1035 A1300 1300 0 0 0 1223 985"/>
<path class="br" d="M1637 1035 A1300 1300 0 0 0 1281 851"/>
<path class="br" d="M1637 1035 A1300 1300 0 0 1 1931 1054"/>
<path class="br" d="M1931 1054 A1300 1300 0 0 1 2020 1061"/>
<path class="br" d="M1931 1054 A1300 1300 0 0 0 1624 800"/>
<path class="br" d="M1931 1054 A1300 1300 0 0 0 1281 851"/>
<path class="br" d="M1861 1105 A1300 1300 0 0 0 1223 985"/>
<path class="br" d="M2020 1061 A1300 1300 0 0 0 1672 690"/>
<path class="br" d="M1861 1105 A1300 1300 0 0 0 1473 1228"/>
</g>
<g id="nodes">
<g id="n-wwtp-a"><circle class="yel" cx="949" cy="44" r="11"/></g>
<g id="n-wwtp-b"><circle class="yel" cx="972" cy="46" r="11"/></g>
<g id="n-wwtp-c"><circle class="yel" cx="982" cy="62" r="11"/></g>
<g id="n-wwtp-d"><circle class="yel" cx="920" cy="112" r="11"/></g>
<g id="n-application-b"><circle class="cyan" cx="1209" cy="310" r="11"/></g>
<g id="n-biosolids-b"><circle class="pur" cx="1100" cy="407" r="11" style="fill:#c08ae2"/></g>
<g id="n-cyan-a"><circle class="cyan" cx="1358" cy="432" r="12"/></g>
<g id="n-cyan-c"><circle class="cyan" cx="1235" cy="489" r="11"/></g>
<g id="n-cyan-d"><circle class="cyan" cx="1404" cy="562" r="11"/></g>
<g id="n-lblue-b"><circle class="lblue" cx="1646" cy="509" r="11"/></g>
<g id="n-amb-b"><circle class="sal" cx="1741" cy="496" r="10" style="fill:#f7a4a8"/></g>
<g id="n-amb-c"><circle class="sal" cx="1938" cy="471" r="11" style="fill:#f7a4a8"/></g>
<g id="n-amb-a"><circle class="sal" cx="1713" cy="517" r="13" style="fill:#f7a4a8"/></g>
<g id="n-amb-d"><circle class="sal" cx="1826" cy="555" r="13" style="fill:#f7a4a8"/></g>
<g id="n-carbon-b"><circle class="lav" cx="337" cy="509" r="10"/></g>
<g id="n-carbon-c"><circle class="lav" cx="374" cy="525" r="10"/></g>
<g id="n-lca-b"><circle class="orange" cx="2406" cy="657" r="12"/></g>
<g id="n-lca-c"><circle class="orange" cx="2422" cy="652" r="12"/></g>
<g id="n-lca-d"><circle class="orange" cx="2439" cy="649" r="12"/></g>
<g id="n-lca-e"><circle class="orange" cx="2457" cy="642" r="12"/></g>
<g id="n-brown-a"><circle class="brown" cx="1590" cy="654" r="11"/></g>
<g id="n-grey-a"><circle class="lgrey" cx="1801" cy="672" r="11"/></g>
<g id="n-grey-b"><circle class="lgrey" cx="1754" cy="723" r="13"/></g>
<g id="n-green-c"><circle class="lgreen" cx="841" cy="640" r="11"/></g>
<g id="n-green-d"><circle class="lgreen" cx="915" cy="599" r="11"/></g>
<g id="n-green-e"><circle class="lgreen" cx="1067" cy="796" r="11"/></g>
<g id="n-purple-c"><circle class="pur" cx="1228" cy="695" r="10" style="fill:#b48ee2"/></g>
<g id="n-brown-b"><circle class="brown" cx="1552" cy="760" r="13"/></g>
<g id="n-orange-b"><circle class="orange" cx="1801" cy="875" r="10"/></g>
<g id="n-brown-c"><circle class="brown" cx="1460" cy="892" r="10"/></g>
<g id="n-brown-d"><circle class="brown" cx="1539" cy="882" r="10"/></g>
<g id="n-brown-e"><circle class="brown" cx="1560" cy="886" r="11"/></g>
<g id="n-brown-f"><circle class="brown" cx="1585" cy="870" r="10"/></g>
<g id="n-cyan-e"><circle class="lcy" cx="1108" cy="883" r="10"/></g>
<g id="n-green-a"><circle class="lgreen" cx="852" cy="808" r="13"/></g>
<g id="n-green-b"><circle class="lgreen" cx="772" cy="941" r="13"/></g>
<g id="n-cyan-f"><circle class="lcy" cx="948" cy="900" r="13"/></g>
<g id="n-red-a"><circle class="red" cx="1084" cy="920" r="11"/></g>
<g id="n-blue-a"><circle class="blue" cx="703" cy="987" r="11"/></g>
<g id="n-blue-b"><circle class="blue" cx="762" cy="1000" r="13"/></g>
<g id="n-lcyan-c"><circle class="lcy" cx="1508" cy="933" r="13"/></g>
<g id="n-salmon-c"><circle class="lbr" cx="2020" cy="1061" r="10"/></g>
<g id="n-salmon-d"><circle class="lbr" cx="1861" cy="1105" r="10"/></g>
<g id="n-blue-c"><circle class="blue" cx="709" cy="1105" r="16"/></g>
<g id="n-red-b"><circle class="red" cx="892" cy="1133" r="11"/></g>
<g id="n-blue-d"><circle class="blue" cx="652" cy="1177" r="11"/></g>
<g id="n-blue-e"><circle class="blue" cx="680" cy="1169" r="11"/></g>
<g id="n-blue-f"><circle class="blue" cx="731" cy="1192" r="11"/></g>
<g id="n-blue-g"><circle class="blue" cx="852" cy="1228" r="11"/></g>
<g id="n-blue-h"><circle class="blue" cx="854" cy="1269" r="11"/></g>
<g id="n-olive-a"><circle class="olive" cx="1274" cy="1173" r="13"/></g>
<g id="n-olive-b"><circle class="olive" cx="1264" cy="1204" r="13"/></g>
<g id="n-olive-c"><circle class="olive" cx="1324" cy="1186" r="11"/></g>
<g id="n-olive-d"><circle class="olive" cx="1219" cy="1269" r="11"/></g>
<g id="n-red-c"><circle class="red" cx="994" cy="1260" r="13"/></g>
<g id="n-red-d"><circle class="red" cx="1020" cy="1289" r="13"/></g>
<g id="n-red-e"><circle class="red" cx="1064" cy="1335" r="11"/></g>
<g id="n-red-f"><circle class="red" cx="967" cy="1375" r="11"/></g>
<g id="n-olive-e"><circle class="olive" cx="1241" cy="1366" r="11"/></g>
<g id="n-olive-f"><circle class="olive" cx="1286" cy="1384" r="11"/></g>
<g id="n-pink-b"><circle class="pink" cx="1618" cy="1228" r="10"/></g>
<g id="n-green-f"><circle class="green" cx="1611" cy="1491" r="11"/></g>
<g id="n-grey-c"><circle class="lgrey" cx="1818" cy="1422" r="11"/></g>
<g id="n-grey-d"><circle class="lgrey" cx="1695" cy="1475" r="11"/></g>
<g id="n-red-g"><circle class="red" cx="1090" cy="1443" r="11"/></g>
<g id="n-olive-g"><circle class="olive" cx="1238" cy="1452" r="13"/></g>
<g id="n-lorange-b"><circle class="lor" cx="1296" cy="1470" r="11"/></g>
<g id="n-green-g"><circle class="green" cx="1376" cy="1498" r="11"/></g>
<g id="n-red-h"><circle class="red" cx="1122" cy="1519" r="11"/></g>
<g id="n-olive-h"><circle class="olive" cx="1205" cy="1503" r="16"/></g>
<g id="n-green-h"><circle class="green" cx="1409" cy="1562" r="11"/></g>
<g id="n-green-i"><circle class="green" cx="1728" cy="1529" r="11"/></g>
<g id="n-green-j"><circle class="green" cx="1642" cy="1603" r="11"/></g>
<g id="n-green-k"><circle class="green" cx="1673" cy="1595" r="11"/></g>
<g id="n-red-i"><circle class="red" cx="1089" cy="1084" r="16"/></g>
<g id="n-red-j"><circle class="red" cx="1150" cy="1038" r="16" style="fill:#e98e8e"/></g>
<g id="n-olive-i"><circle class="olive" cx="1228" cy="1051" r="16"/></g>
<g id="n-purple-d"><circle class="lpur" cx="985" cy="969" r="15"/></g>
<g id="n-green-l"><circle class="green" cx="1856" cy="1327" r="18"/></g>
<g id="n-lcyan-a"><circle class="lcy" cx="1716" cy="877" r="18"/></g>
<g id="n-lcyan-b"><circle class="lcy" cx="1557" cy="936" r="16"/></g>
<g id="n-lblue-c"><circle class="lblue" cx="1501" cy="650" r="16"/></g>
<g id="n-purple-e"><circle class="lpur" cx="1148" cy="805" r="20"/></g>
<g id="n-lorange-c"><circle class="lor" cx="1355" cy="1122" r="20"/></g>
<g id="n-pink-c"><circle class="pink" cx="1751" cy="952" r="21"/></g>
<g id="n-brown-g"><circle class="brown" cx="1442" cy="957" r="23" style="fill:#c08577"/></g>
<g id="n-brown-h"><circle class="brown" cx="1453" cy="1059" r="25"/></g>
<g id="n-salmon-e"><circle class="lbr" cx="1637" cy="1035" r="28"/></g>
<g id="n-pink-d"><circle class="pink" cx="1384" cy="993" r="30"/></g>

<g id="n-food-industry"><circle class="lgrey" cx="1379" cy="118" r="11"/><text x="1393" y="100" font-size="31" textLength="195" lengthAdjust="spacingAndGlyphs">food industry</text></g>
<g id="n-wastewater-treatment-plants"><circle class="yel" cx="948" cy="90" r="15"/><text x="946" y="90" font-size="37" textLength="496" lengthAdjust="spacingAndGlyphs">wastewater treatment plants</text></g>
<g id="n-application"><circle class="cyan" cx="1228" cy="282" r="11"/><text x="1227" y="282" font-size="31" textLength="161" lengthAdjust="spacingAndGlyphs">application</text></g>
<g id="n-water-quality"><circle class="lgrey" cx="668" cy="337" r="10"/><text x="668" y="337" font-size="31" textLength="190" lengthAdjust="spacingAndGlyphs">water quality</text></g>
<g id="n-nutrient-reuse"><circle class="lblue" cx="1596" cy="368" r="11"/><text x="1576" y="410" font-size="31" textLength="210" lengthAdjust="spacingAndGlyphs">nutrient reuse</text></g>
<g id="n-ammonia-recovery"><circle class="lpink" cx="879" cy="465" r="10"/><text x="879" y="465" font-size="31" textLength="269" lengthAdjust="spacingAndGlyphs">ammonia recovery</text></g>
<g id="n-carbon-neutrality"><circle class="lav" cx="353" cy="504" r="10"/><text x="378" y="515" font-size="31" textLength="251" lengthAdjust="spacingAndGlyphs">carbon neutrality</text></g>
<g id="n-water-resource"><circle class="lav" cx="621" cy="570" r="10"/><text x="621" y="570" font-size="31" textLength="218" lengthAdjust="spacingAndGlyphs">water resource</text></g>
<g id="n-disposal"><circle class="lpink" cx="1150" cy="620" r="9"/><text x="1168" y="616" font-size="31" textLength="118" lengthAdjust="spacingAndGlyphs">disposal</text></g>
<g id="n-decision-making"><circle class="cyan" cx="1439" cy="586" r="13"/><text x="1516" y="604" font-size="31" textLength="238" lengthAdjust="spacingAndGlyphs">decision-making</text></g>
<g id="n-anaerobic-membrane-bioreactor"><circle class="sal" cx="1930" cy="501" r="11" style="fill:#f7a4a8"/><text x="1913" y="489" font-size="31" textLength="468" lengthAdjust="spacingAndGlyphs">anaerobic membrane bioreactor</text></g>
<g id="n-cyan-b"><circle class="cyan" cx="1319" cy="481" r="13"/></g>
<g id="n-life-cycle-assessment"><circle class="orange" cx="2340" cy="670" r="15"/><text x="2342" y="670" font-size="32" textLength="392" lengthAdjust="spacingAndGlyphs">life cycle assessment (lca)</text></g>
<g id="n-circular-economy-ce"><circle class="orange" cx="2017" cy="764" r="12"/><text x="2017" y="762" font-size="31" textLength="309" lengthAdjust="spacingAndGlyphs">circular economy (ce)</text></g>
<g id="n-biosorption"><circle class="lav" cx="657" cy="846" r="10"/><text x="660" y="842" font-size="31" textLength="167" lengthAdjust="spacingAndGlyphs">biosorption</text></g>
<g id="n-bioeconomy"><circle class="pink" cx="1760" cy="1068" r="8"/><text x="1755" y="1066" font-size="31" textLength="177" lengthAdjust="spacingAndGlyphs">bioeconomy</text></g>
<g id="n-biodiesel"><circle class="lbr" cx="1931" cy="1054" r="11"/><text x="1931" y="1051" font-size="34" textLength="140" lengthAdjust="spacingAndGlyphs">biodiesel</text></g>
<g id="n-organic-waste"><circle class="pink" cx="1690" cy="1128" r="10"/><circle class="pink" cx="1634" cy="1158" r="13"/><circle class="pink" cx="1654" cy="1177" r="13"/><text x="1752" y="1130" font-size="31" textLength="202" lengthAdjust="spacingAndGlyphs">organic waste</text></g>
<g id="n-waste-valorization"><circle class="red" cx="816" cy="1145" r="13"/><text x="815" y="1143" font-size="31" textLength="264" lengthAdjust="spacingAndGlyphs">waste valorization</text></g>
<g id="n-syngas"><circle class="red" cx="1110" cy="1160" r="9"/><text x="1123" y="1160" font-size="31" textLength="100" lengthAdjust="spacingAndGlyphs">syngas</text></g>
<g id="n-environmental-impact"><circle class="blue" cx="670" cy="1222" r="11"/><text x="672" y="1223" font-size="31" textLength="319" lengthAdjust="spacingAndGlyphs">environmental impact</text></g>
<g id="n-biomass-valorization"><circle class="green" cx="1872" cy="1237" r="10"/><text x="1872" y="1237" font-size="31" textLength="300" lengthAdjust="spacingAndGlyphs">biomass valorization</text></g>
<g id="n-metagenomics"><circle class="lgrey" cx="141" cy="1296" r="10"/><text x="140" y="1294" font-size="31" textLength="212" lengthAdjust="spacingAndGlyphs">metagenomics</text></g>
<g id="n-single-cell-protein"><circle class="green" cx="1897" cy="1294" r="10"/><text x="1897" y="1294" font-size="31" textLength="258" lengthAdjust="spacingAndGlyphs">single cell protein</text></g>
<g id="n-sustainability-assessment"><circle class="lor" cx="1305" cy="1313" r="10"/><text x="1335" y="1317" font-size="31" textLength="378" lengthAdjust="spacingAndGlyphs">sustainability assessment</text></g>
<g id="n-waste"><circle class="red" cx="1040" cy="1365" r="13"/><text x="1041" y="1365" font-size="31" textLength="85" lengthAdjust="spacingAndGlyphs">waste</text></g>
<g id="n-nitrogen-recovery"><circle class="lbr" cx="1391" cy="1370" r="11"/><text x="1391" y="1371" font-size="31" textLength="256" lengthAdjust="spacingAndGlyphs">nitrogen recovery</text></g>
<g id="n-engineered-biochar"><circle class="green" cx="1593" cy="1430" r="11"/><text x="1595" y="1430" font-size="31" textLength="282" lengthAdjust="spacingAndGlyphs">engineered biochar</text></g>
<g id="n-ion-exchange"><circle class="green" cx="1664" cy="1624" r="13"/><text x="1664" y="1624" font-size="31" textLength="192" lengthAdjust="spacingAndGlyphs">ion exchange</text></g>
<g id="n-domestic-wastewater"><circle class="lgrey" cx="335" cy="1677" r="10"/><text x="332" y="1675" font-size="31" textLength="307" lengthAdjust="spacingAndGlyphs">domestic wastewater</text></g>
<g id="n-climate-change"><circle class="cyan" cx="1281" cy="381" r="15"/><text x="1281" y="381" font-size="33" textLength="233" lengthAdjust="spacingAndGlyphs">climate change</text></g>
<g id="n-biosolids"><circle class="pur" cx="1164" cy="496" r="16"/><text x="1164" y="496" font-size="34" textLength="141" lengthAdjust="spacingAndGlyphs">biosolids</text></g>
<g id="n-nitrogen"><circle class="lblue" cx="1577" cy="493" r="16"/><text x="1576" y="494" font-size="34" textLength="135" lengthAdjust="spacingAndGlyphs">nitrogen</text></g>
<g id="n-phosphorus-recovery"><circle class="blue" cx="851" cy="1087" r="16"/><text x="851" y="1090" font-size="34.5" textLength="340" lengthAdjust="spacingAndGlyphs">phosphorus recovery</text></g>
<g id="n-aerobic-granular-sludge"><circle class="red" cx="915" cy="1278" r="15"/><text x="913" y="1276" font-size="33.7" textLength="371" lengthAdjust="spacingAndGlyphs">aerobic granular sludge</text></g>
<g id="n-industrial-ecology"><circle class="red" cx="1227" cy="1545" r="18"/><text x="1228" y="1544" font-size="33.8" textLength="278" lengthAdjust="spacingAndGlyphs">industrial ecology</text></g>
<g id="n-water-scarcity"><circle class="green" cx="1534" cy="1567" r="18"/><text x="1534" y="1566" font-size="32" textLength="213" lengthAdjust="spacingAndGlyphs">water scarcity</text></g>
<g id="n-bioremediation"><circle class="cyan" cx="1572" cy="550" r="20"/><text x="1570" y="550" font-size="37" textLength="266" lengthAdjust="spacingAndGlyphs">bioremediation</text></g>
<g id="n-sustainable-development-goals"><circle class="lgreen" cx="946" cy="677" r="20"/><text x="946" y="678" font-size="37" textLength="535" lengthAdjust="spacingAndGlyphs">sustainable development goals</text></g>
<g id="n-municipal-wastewater"><circle class="red" cx="1159" cy="1212" r="20"/><circle class="blue" cx="1067" cy="1219" r="20"/><text x="1066" y="1222" font-size="36.7" textLength="373" lengthAdjust="spacingAndGlyphs">municipal wastewater</text></g>
<g id="n-waste-to-energy"><circle class="olive" cx="1302" cy="1141" r="20"/><text x="1406" y="1166" font-size="31.3" textLength="233" lengthAdjust="spacingAndGlyphs">waste-to-energy</text></g>
<g id="n-waste-management"><circle class="grey" cx="1737" cy="1358" r="20"/><text x="1737" y="1358" font-size="36.8" textLength="337" lengthAdjust="spacingAndGlyphs">waste management</text></g>
<g id="n-biochar"><circle class="red" cx="1171" cy="1440" r="20"/><text x="1170" y="1440" font-size="36.3" textLength="128" lengthAdjust="spacingAndGlyphs">biochar</text></g>
<g id="n-recycling"><circle class="orange" cx="1782" cy="833" r="21"/><text x="1782" y="837" font-size="37" textLength="149" lengthAdjust="spacingAndGlyphs">recycling</text></g>
<g id="n-nutrients"><circle class="lpink" cx="1017" cy="616" r="23"/><text x="1017" y="612" font-size="39" textLength="166" lengthAdjust="spacingAndGlyphs">nutrients</text></g>
<g id="n-biogas"><circle class="sal" cx="1624" cy="800" r="23"/><text x="1624" y="795" font-size="40" textLength="120" lengthAdjust="spacingAndGlyphs">biogas</text></g>
<g id="n-adsorption"><circle class="green" cx="1550" cy="1511" r="23"/><text x="1550" y="1511" font-size="36.3" textLength="186" lengthAdjust="spacingAndGlyphs">adsorption</text></g>
<g id="n-reuse"><circle class="cyan" cx="1325" cy="645" r="25"/><text x="1325" y="645" font-size="39" textLength="102" lengthAdjust="spacingAndGlyphs">reuse</text></g>
<g id="n-microalgae"><circle class="sal" cx="1672" cy="690" r="26"/><text x="1672" y="690" font-size="40" textLength="202" lengthAdjust="spacingAndGlyphs">microalgae</text></g>
<g id="n-anaerobic-digestion"><circle class="lor" cx="1445" cy="1104" r="36"/><text x="1450" y="1103" font-size="39.5" textLength="361" lengthAdjust="spacingAndGlyphs">anaerobic digestion</text></g>
<g id="n-pale-a"><circle class="pgrey" cx="1182" cy="887" r="49"/></g>
<g id="n-purple-big-b"><circle class="lpur" cx="1174" cy="821" r="49"/></g>
<g id="n-blue-big"><circle class="blue" cx="1087" cy="1026" r="49"/></g>
<g id="n-sustainability"><circle class="olive" cx="1473" cy="1228" r="49"/><text x="1475" y="1228" font-size="49" textLength="296" lengthAdjust="spacingAndGlyphs">sustainability</text></g>
<g id="n-energy-recovery"><circle class="pur" cx="1371" cy="800" r="57" style="fill:#b07ce0"/><text x="1396" y="752" font-size="37.5" textLength="279" lengthAdjust="spacingAndGlyphs">energy recovery</text></g>
<g id="n-resource-recovery"><circle class="red" cx="1281" cy="851" r="77" style="fill:#f44848"/><text x="1281" y="849" font-size="63" textLength="525" lengthAdjust="spacingAndGlyphs">resource recovery</text></g>
<g id="n-circular-economy"><circle class="grey" cx="1223" cy="985" r="123" style="fill-opacity:.72"/><text x="1222" y="982" font-size="88.5" textLength="703" lengthAdjust="spacingAndGlyphs">circular economy</text></g>
</g>
</svg>
